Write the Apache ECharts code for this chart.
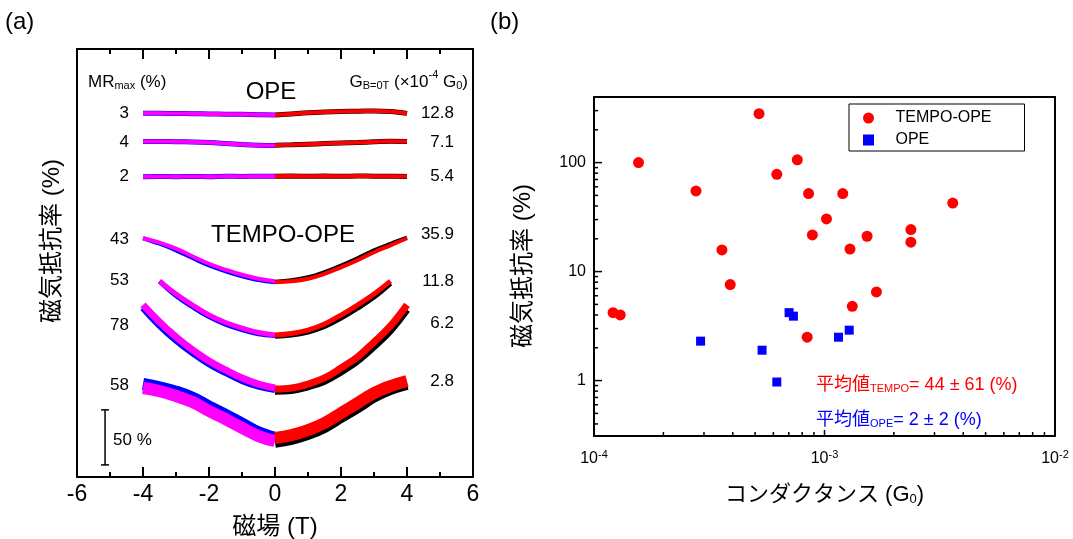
<!DOCTYPE html>
<html><head><meta charset="utf-8">
<script src="https://cdn.jsdelivr.net/npm/echarts@6/dist/echarts.min.js"></script>
<style>html,body{margin:0;padding:0;background:#fff}#c{width:1073px;height:539px}</style>
</head><body><div id="c"></div>
<script>
// ---------- Panel (a): magnetoresistance curves (MR %, relative to each curve's zero-field value) ----------
const fieldLeft = [-4, -3.5, -3, -2.5, -2, -1.5, -1, -0.5, 0];
const fieldRight = [0, 0.5, 1, 1.5, 2, 2.5, 3, 3.5, 4];
const fieldLeft53 = [-3.5, -3, -2.5, -2, -1.5, -1, -0.5, 0];
const fieldRight53 = [0, 0.5, 1, 1.5, 2, 2.5, 3, 3.5];

// vertical offsets (in %) used to stack the curves
const curveOffsets = [329, 301, 273, 177, 129, 80, 33.6];
const mrMaxLabels = ['3', '4', '2', '43', '53', '78', '58'];
const gLabels = ['12.8', '7.1', '5.4', '35.9', '11.8', '6.2', '2.8'];

// OPE
const ope3Magenta = [1.5, 1.5, 1.4, 1.2, 1.0, 0.8, 0.6, 0.3, 0];
const ope3Red     = [0, 1.0, 2.0, 2.7, 3.2, 3.5, 3.6, 3.3, 1.5];
const ope4Magenta = [3.9, 3.9, 3.8, 3.5, 3.0, 2.2, 1.3, 0.6, 0.2];
const ope4Red     = [0.6, 1.0, 1.5, 2.0, 2.5, 3.0, 3.7, 4.2, 3.9];
const ope2Magenta = [0, 0.2, 0, 0.2, 0, 0.3, 0.2, 0.4, 0.3];
const ope2Red     = [0.3, 0.5, 0.4, 0.5, 0.4, 0.5, 0.4, 0.3, 0.2];
// TEMPO-OPE
const t43Blue    = [40, 35, 29, 22, 15.3, 10, 5.5, 2, 0];
const t43Magenta = [40, 36, 30.5, 23.6, 16.8, 11.4, 6.8, 3.2, 0.9];
const t43Black   = [0.5, 1.8, 4.5, 9.2, 15.2, 21.8, 29, 35, 40.5];
const t43Red     = [0, 0.9, 3.2, 7.7, 13.6, 20, 27.3, 33.6, 40];
const t53Blue    = [49, 36, 25.8, 16.8, 10, 5, 1.2, -0.5];
const t53Magenta = [49, 37.3, 27.3, 18.2, 11.4, 6.4, 2.3, 0];
const t53Black   = [-1, 0, 2.8, 7.8, 15.5, 24.5, 34.5, 47];
const t53Red     = [0, 1.4, 4.5, 10, 18.2, 27.3, 37.3, 49];
const t78Blue    = [74, 58, 44.5, 33, 23, 15, 7.8, 2.5, -0.5];
const t78Magenta = [76.4, 60.9, 47.3, 35.5, 25.5, 17.3, 10, 4.5, 0.9];
const t78Black   = [-2, -1.5, 2, 7, 15.5, 25.5, 38.5, 53, 72];
const t78Red     = [0, 0.9, 4.5, 10, 19.1, 29.1, 42.7, 57.3, 76.4];
const t58Blue    = [51, 48, 44, 38.5, 30.5, 23, 15, 7, 2];
const t58Magenta = [47.3, 44.5, 40, 34.5, 26.4, 19, 11, 3.6, -0.9];
const t58Black   = [-1.5, 1, 5.5, 12, 21, 30, 39.5, 46.5, 51];
const t58Red     = [1.8, 4.5, 9, 15.5, 24.5, 33.6, 42.7, 49, 53.6];

const scaleBar = [-5.15, 11, 61]; // x, from %, to % (50 % bar)
const xRangeA = [-6, 6];
const yRangeA = [0, 389];
const xMajorTicksA = [-4, -2, 0, 2, 4];
const xMinorTicksA = [-5, -3, -1, 1, 3, 5];

// ---------- Panel (b): MR vs conductance ----------
const tempoG  = [1.21e-4, 1.30e-4, 1.56e-4, 2.77e-4, 3.59e-4, 3.90e-4, 5.20e-4, 6.21e-4, 7.62e-4, 8.53e-4, 8.86e-4, 1.02e-3, 1.20e-3, 1.29e-3, 1.32e-3, 1.53e-3, 1.68e-3, 2.37e-3, 2.37e-3, 3.60e-3, 8.41e-4];
const tempoMR = [4.2, 4.0, 100, 55, 15.8, 7.6, 281, 78, 106, 52, 21.7, 30.4, 52, 16.1, 4.8, 21.1, 6.5, 24.3, 18.6, 42.5, 2.5];
const opeG    = [2.90e-4, 5.36e-4, 6.21e-4, 7.02e-4, 7.33e-4, 1.15e-3, 1.28e-3];
const opeMR   = [2.3, 1.9, 0.97, 4.2, 3.9, 2.5, 2.9];
const xMajorTicksB = [1e-3];
const yMajorTicksB = [1, 10, 100];
const xMinorTicksB = [2e-4, 3e-4, 4e-4, 5e-4, 6e-4, 7e-4, 8e-4, 9e-4, 2e-3, 3e-3, 4e-3, 5e-3, 6e-3, 7e-3, 8e-3, 9e-3];
const yMinorTicksB = [0.4, 0.5, 0.6, 0.7, 0.8, 0.9, 2, 3, 4, 5, 6, 7, 8, 9, 20, 30, 40, 50, 60, 70, 80, 90, 200, 300];
const xRangeB = [1e-4, 1e-2];
const yRangeB = [0.31, 400];

const FONT = "'Liberation Sans', Arial, 'Noto Sans CJK JP', sans-serif";
const CJK = "'Liberation Sans', 'Noto Sans CJK JP', sans-serif";

function pair(xs, ys, off) { return xs.map((x, i) => [x, ys[i] + off]); }
function curve(xs, ys, off, color, w) {
  return { type: 'line', xAxisIndex: 0, yAxisIndex: 0, data: pair(xs, ys, off), smooth: 0.4,
    showSymbol: false, symbol: 'none', lineStyle: { color: color, width: w, cap: 'butt', opacity: 1 }, silent: true, z: 3 };
}
const series = [];
const ope = [[ope3Magenta, ope3Red], [ope4Magenta, ope4Red], [ope2Magenta, ope2Red]];
ope.forEach((c, i) => {
  series.push(curve(fieldLeft, c[0], curveOffsets[i], '#0000ff', 5));
  series.push(curve(fieldRight, c[1], curveOffsets[i], '#000000', 5));
  series.push(curve(fieldLeft, c[0], curveOffsets[i], '#ff00ff', 4));
  series.push(curve(fieldRight, c[1], curveOffsets[i], '#ff0000', 4));
});
const tempo = [
  [fieldLeft, fieldRight, t43Blue, t43Magenta, t43Black, t43Red, 4],
  [fieldLeft53, fieldRight53, t53Blue, t53Magenta, t53Black, t53Red, 5],
  [fieldLeft, fieldRight, t78Blue, t78Magenta, t78Black, t78Red, 7],
  [fieldLeft, fieldRight, t58Blue, t58Magenta, t58Black, t58Red, 12]
];
tempo.forEach((c, k) => {
  const off = curveOffsets[3 + k];
  series.push(curve(c[0], c[2], off, '#0000ff', c[6]));
  series.push(curve(c[1], c[4], off, '#000000', c[6]));
  series.push(curve(c[0], c[3], off, '#ff00ff', c[6]));
  series.push(curve(c[1], c[5], off, '#ff0000', c[6]));
});
// 50 % scale bar
series.push({ type: 'custom', xAxisIndex: 0, yAxisIndex: 0, silent: true, clip: false,
  data: [scaleBar],
  renderItem: function (params, api) {
    const a = api.coord([api.value(0), api.value(1)]);
    const b = api.coord([api.value(0), api.value(2)]);
    const st = { stroke: '#000', lineWidth: 1.5 };
    return { type: 'group', children: [
      { type: 'line', shape: { x1: a[0], y1: a[1], x2: b[0], y2: b[1] }, style: st },
      { type: 'line', shape: { x1: a[0] - 4, y1: a[1], x2: a[0] + 4, y2: a[1] }, style: st },
      { type: 'line', shape: { x1: b[0] - 4, y1: b[1], x2: b[0] + 4, y2: b[1] }, style: st }
    ] };
  }
});
// panel (b) scatter
series.push({ name: 'TEMPO-OPE', type: 'scatter', xAxisIndex: 2, yAxisIndex: 2, symbol: 'circle', symbolSize: 11,
  itemStyle: { color: '#ff0000', opacity: 1 }, data: tempoG.map((g, i) => [g, tempoMR[i]]), z: 5 });
series.push({ name: 'OPE', type: 'scatter', xAxisIndex: 2, yAxisIndex: 2, symbol: 'rect', symbolSize: 9,
  itemStyle: { color: '#0000ff', opacity: 1 }, data: opeG.map((g, i) => [g, opeMR[i]]), z: 5 });

const axisLine = { show: true, onZero: false, lineStyle: { color: '#000', width: 2 } };
const noTick = { show: false };
function isPow10(v) { const l = Math.log10(v); return Math.abs(l - Math.round(l)) < 1e-6; }

const option = {
  backgroundColor: '#fff',
  animation: false,
  textStyle: { fontFamily: FONT },
  grid: [
    { left: 77, top: 49, width: 396, height: 428, outerBoundsMode: 'none', containLabel: false },
    { left: 594, top: 97, width: 461, height: 339, outerBoundsMode: 'none', containLabel: false }
  ],
  xAxis: [
    { gridIndex: 0, type: 'value', min: xRangeA[0], max: xRangeA[1], interval: 2, position: 'bottom',
      axisLine: axisLine, splitLine: { show: false }, axisTick: noTick,
      axisLabel: { fontSize: 23, color: '#000', margin: 6, fontFamily: FONT },
      name: '磁場 (T)', nameLocation: 'middle', nameGap: 38,
      nameTextStyle: { fontSize: 24, color: '#000', fontFamily: CJK } },
    { gridIndex: 0, type: 'value', min: xRangeA[0], max: xRangeA[1], interval: 2, position: 'top',
      axisLine: axisLine, splitLine: { show: false }, axisTick: noTick, axisLabel: { show: false } },
    { gridIndex: 1, type: 'log', logBase: 10, min: xRangeB[0], max: xRangeB[1], position: 'bottom',
      axisLine: axisLine, splitLine: { show: false }, axisTick: noTick,
      axisLabel: { color: '#000', margin: 13, showMinLabel: true, showMaxLabel: true,
        formatter: v => isPow10(v) ? '{b|10}{s|' + Math.round(Math.log10(v)) + '}' : '',
        rich: { b: { fontSize: 16, fontFamily: FONT, color: '#000', verticalAlign: 'bottom', lineHeight: 18 },
                s: { fontSize: 11, fontFamily: FONT, color: '#000', verticalAlign: 'top', lineHeight: 6 } } },
      name: '{a|コンダクタンス (G}{s|0}{a|)}', nameLocation: 'middle', nameGap: 44,
      nameTextStyle: { color: '#000', rich: {
        a: { fontSize: 22, fontFamily: CJK, color: '#000', verticalAlign: 'bottom', lineHeight: 26 },
        s: { fontSize: 13, fontFamily: FONT, color: '#000', verticalAlign: 'bottom', lineHeight: 10 } } } },
    { gridIndex: 1, type: 'log', logBase: 10, min: xRangeB[0], max: xRangeB[1], position: 'top',
      axisLine: axisLine, axisTick: noTick, axisLabel: { show: false }, splitLine: { show: false } }
  ],
  yAxis: [
    { gridIndex: 0, type: 'value', min: yRangeA[0], max: yRangeA[1], position: 'left',
      axisLine: axisLine, axisTick: noTick, axisLabel: { show: false }, splitLine: { show: false } },
    { gridIndex: 0, type: 'value', min: yRangeA[0], max: yRangeA[1], position: 'right',
      axisLine: axisLine, axisTick: noTick, axisLabel: { show: false }, splitLine: { show: false } },
    { gridIndex: 1, type: 'log', logBase: 10, min: yRangeB[0], max: yRangeB[1], position: 'left',
      axisLine: axisLine, splitLine: { show: false }, axisTick: noTick,
      axisLabel: { fontSize: 16, color: '#000', margin: 8, fontFamily: FONT,
        formatter: v => isPow10(v) ? String(Math.round(v)) : '' } },
    { gridIndex: 1, type: 'log', logBase: 10, min: yRangeB[0], max: yRangeB[1], position: 'right',
      axisLine: axisLine, axisTick: noTick, axisLabel: { show: false }, splitLine: { show: false } }
  ],
  legend: {
    data: [{ name: 'TEMPO-OPE', icon: 'circle' }, { name: 'OPE', icon: 'path://M0,0L10,0L10,10L0,10Z' }],
    orient: 'vertical', left: 849, top: 104, symbolKeepAspect: true,
    borderColor: '#000', borderWidth: 1, borderRadius: 0, padding: [6, 33, 3, 14],
    itemWidth: 44, itemHeight: 11, itemGap: 6,
    textStyle: { fontSize: 16, color: '#000', fontFamily: FONT }
  },
  series: series
};

// text annotations
const g = [];
function txt(x, y, text, size, align, color) {
  g.push({ type: 'text', silent: true, z: 10,
    style: { x: x, y: y, text: text, fill: color || '#000', align: align || 'left', verticalAlign: 'middle',
      font: size + 'px ' + FONT } });
}
txt(5, 22, '(a)', 24, 'left');
txt(490, 22, '(b)', 24, 'left');
txt(271, 92, 'OPE', 24, 'center');
txt(283, 235, 'TEMPO-OPE', 24, 'center');
const leftY = [113, 142, 176, 239, 280, 325, 385];
const rightY = [113, 142, 176, 234, 281, 323, 381];
mrMaxLabels.forEach((t, i) => txt(129, leftY[i], t, 17, 'right'));
gLabels.forEach((t, i) => txt(454, rightY[i], t, 17, 'right'));
txt(113, 440, '50 %', 17, 'left');
g.push({ type: 'text', silent: true, style: { x: 88, y: 80, verticalAlign: 'middle', align: 'left',
  text: '{a|MR}{s|max}{a| (%)}',
  rich: { a: { fontSize: 17, fontFamily: FONT, fill: '#000', lineHeight: 22, verticalAlign: 'bottom' },
          s: { fontSize: 11, fontFamily: FONT, fill: '#000', lineHeight: 10, verticalAlign: 'bottom' } } } });
g.push({ type: 'text', silent: true, style: { x: 468, y: 80, verticalAlign: 'middle', align: 'right',
  text: '{a|G}{s|B=0T}{a| (×10}{p|-4}{a| G}{s|0}{a|)}',
  rich: { a: { fontSize: 17, fontFamily: FONT, fill: '#000', lineHeight: 22, verticalAlign: 'bottom' },
          s: { fontSize: 11, fontFamily: FONT, fill: '#000', lineHeight: 10, verticalAlign: 'bottom' },
          p: { fontSize: 11, fontFamily: FONT, fill: '#000', lineHeight: 8, verticalAlign: 'top' } } } });
g.push({ type: 'text', silent: true, x: 52, y: 241, rotation: Math.PI / 2,
  style: { x: 0, y: 0, text: '磁気抵抗率 (%)', align: 'center', verticalAlign: 'middle', fill: '#000', font: '24px ' + CJK } });
g.push({ type: 'text', silent: true, x: 523, y: 266, rotation: Math.PI / 2,
  style: { x: 0, y: 0, text: '磁気抵抗率 (%)', align: 'center', verticalAlign: 'middle', fill: '#000', font: '24px ' + CJK } });
g.push({ type: 'text', silent: true, z: 10, style: { x: 816, y: 383, verticalAlign: 'middle', align: 'left',
  text: '{a|平均値}{s|TEMPO}{a|= 44 ± 61 (%)}',
  rich: { a: { fontSize: 18, fontFamily: CJK, fill: '#ff0000', lineHeight: 22, verticalAlign: 'bottom' },
          s: { fontSize: 11, fontFamily: FONT, fill: '#ff0000', lineHeight: 8, verticalAlign: 'bottom' } } } });
g.push({ type: 'text', silent: true, z: 10, style: { x: 816, y: 418, verticalAlign: 'middle', align: 'left',
  text: '{a|平均値}{s|OPE}{a|= 2 ± 2 (%)}',
  rich: { a: { fontSize: 18, fontFamily: CJK, fill: '#0000ff', lineHeight: 22, verticalAlign: 'bottom' },
          s: { fontSize: 11, fontFamily: FONT, fill: '#0000ff', lineHeight: 8, verticalAlign: 'bottom' } } } });

const chart = echarts.init(document.getElementById('c'), null, { renderer: 'canvas' });
chart.setOption(option);

// inward tick marks, positioned through the axes' own scales (convertToPixel)
function addTicks(finder, pts, kind, len, w) {
  pts.forEach(pt => {
    const p = chart.convertToPixel(finder, pt);
    if (!p || isNaN(p[0]) || isNaN(p[1])) return;
    let x2 = p[0], y2 = p[1];
    if (kind === 'b') y2 = p[1] - len; else if (kind === 't') y2 = p[1] + len; else x2 = p[0] + len;
    g.push({ type: 'line', silent: true, z: 100,
      shape: { x1: p[0], y1: p[1], x2: x2, y2: y2 }, style: { stroke: '#000', lineWidth: w } });
  });
}
const fA = { xAxisIndex: 0, yAxisIndex: 0 };
const fB = { xAxisIndex: 2, yAxisIndex: 2 };
addTicks(fA, xMajorTicksA.map(v => [v, yRangeA[0]]), 'b', 10, 2);
addTicks(fA, xMinorTicksA.map(v => [v, yRangeA[0]]), 'b', 5, 2);
addTicks(fA, xMajorTicksA.map(v => [v, yRangeA[1]]), 't', 10, 2);
addTicks(fA, xMinorTicksA.map(v => [v, yRangeA[1]]), 't', 5, 2);
addTicks(fB, xMajorTicksB.map(v => [v, yRangeB[0]]), 'b', 6, 1.5);
addTicks(fB, xMinorTicksB.map(v => [v, yRangeB[0]]), 'b', 4, 1.5);
addTicks(fB, yMajorTicksB.map(v => [xRangeB[0], v]), 'l', 8, 1.5);
addTicks(fB, yMinorTicksB.map(v => [xRangeB[0], v]), 'l', 4, 1.5);
chart.setOption({ graphic: g });
</script></body></html>
